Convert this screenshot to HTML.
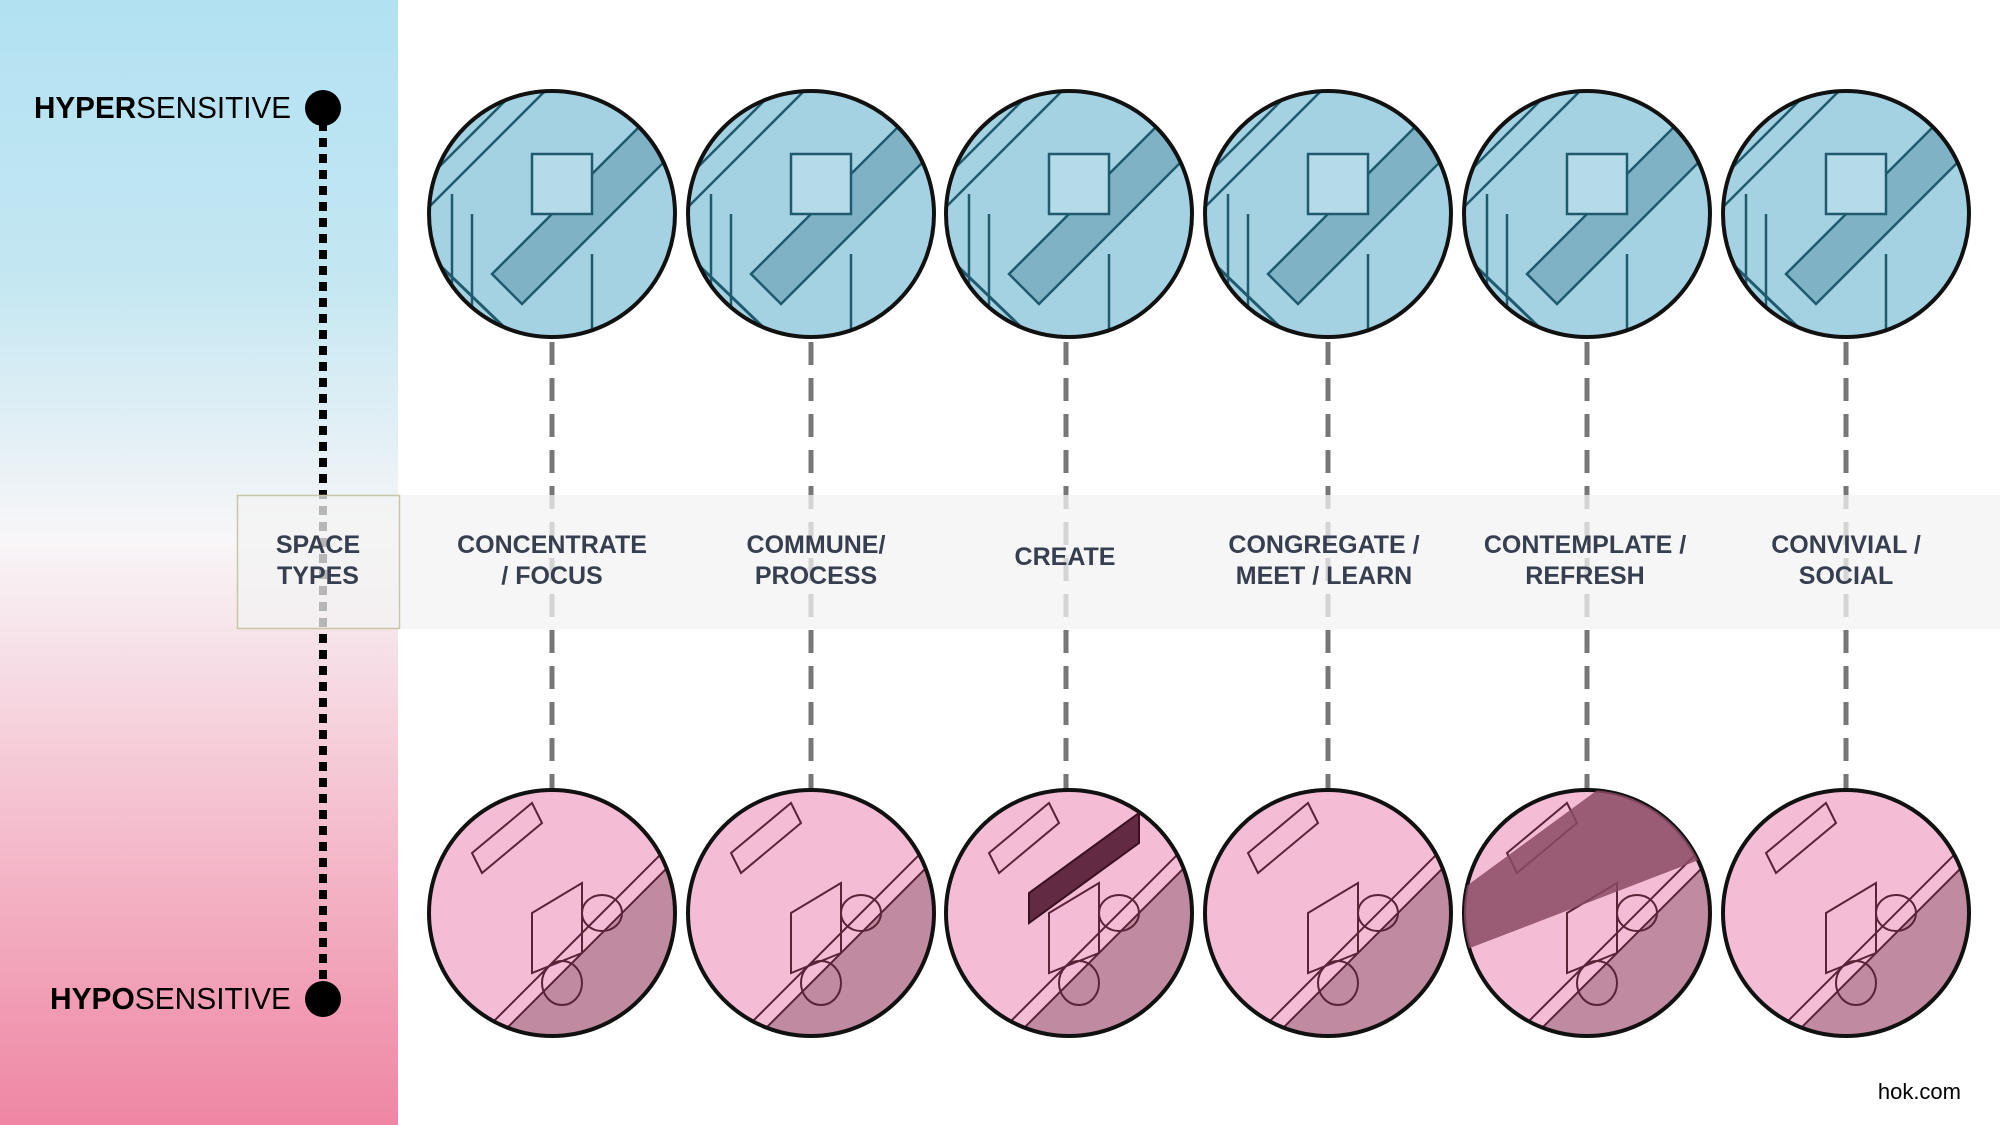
<!DOCTYPE html>
<html><head><meta charset="utf-8"><style>
html,body{margin:0;padding:0;width:2000px;height:1125px;overflow:hidden;background:#fff}
svg{display:block}
text{font-family:"Liberation Sans",sans-serif}
</style></head><body>
<svg width="2000" height="1125" viewBox="0 0 2000 1125" xmlns="http://www.w3.org/2000/svg">
<defs>
<linearGradient id="pg" x1="0" y1="0" x2="0" y2="1">
<stop offset="0" stop-color="#b2e1f2"/>
<stop offset="0.25" stop-color="#c4e7f2"/>
<stop offset="0.48" stop-color="#f8f6f8"/>
<stop offset="0.7" stop-color="#f5c5d3"/>
<stop offset="1" stop-color="#ef86a3"/>
</linearGradient>
<clipPath id="c1"><circle cx="0" cy="0" r="123"/></clipPath>
<g id="blue">
<circle r="123" fill="#a4d2e3"/>
<g clip-path="url(#c1)" stroke="#1f5a6e" stroke-width="2.5" fill="none">
<path d="M-140 -20 L-10 -150 M-140 10 L20 -150" />
<path d="M-60 60 L120 -120 L150 -90 L-30 90 Z" fill="#7fb2c4"/>
<path d="M-20 -60 L40 -60 L40 0 L-20 0 Z" fill="#b5dbe8"/>
<path d="M-100 -20 L-100 110 M-80 0 L-80 130 M40 40 L40 140"/>
<path d="M-124 40 L-20 140" stroke-width="3"/>
</g>
<circle r="123" fill="none" stroke="#111" stroke-width="4"/>
</g>
<g id="pink">
<circle r="123" fill="#f5bcd6"/>
<g clip-path="url(#c1)" stroke="#5a2338" stroke-width="2" fill="none">
<path d="M-80 150 L150 -80 L150 150 Z" fill="#c08aa0"/>
<path d="M-90 140 L140 -90"/>
<path d="M-80 -60 L-20 -110 L-10 -90 L-70 -40 Z"/>
<path d="M-20 0 L30 -30 L30 40 L-20 60 Z"/>
<ellipse cx="50" cy="0" rx="20" ry="18"/>
<ellipse cx="10" cy="70" rx="20" ry="22"/>
</g>
<circle r="123" fill="none" stroke="#111" stroke-width="4"/>
</g>
</defs>
<rect x="0" y="0" width="398" height="1125" fill="url(#pg)"/>
<line x1="323" y1="122" x2="323" y2="990" stroke="#000" stroke-width="8" stroke-dasharray="9 7"/>
<circle cx="323" cy="108" r="18" fill="#000"/>
<circle cx="323" cy="999" r="18" fill="#000"/>
<text x="34" y="118" font-size="31" fill="#000" textLength="257" lengthAdjust="spacingAndGlyphs"><tspan font-weight="bold">HYPER</tspan>SENSITIVE</text>
<text x="50" y="1009" font-size="31" fill="#000" textLength="241" lengthAdjust="spacingAndGlyphs"><tspan font-weight="bold">HYPO</tspan>SENSITIVE</text>
<g stroke="#777" stroke-width="5" stroke-dasharray="23 13">
<line x1="552" y1="342" x2="552" y2="792"/>
<line x1="811" y1="342" x2="811" y2="792"/>
<line x1="1066" y1="342" x2="1066" y2="792"/>
<line x1="1328" y1="342" x2="1328" y2="792"/>
<line x1="1587" y1="342" x2="1587" y2="792"/>
<line x1="1846" y1="342" x2="1846" y2="792"/>
</g>
<rect x="237" y="495" width="1763" height="134" fill="#f3f3f3" opacity="0.75"/>
<rect x="237.5" y="495.5" width="162" height="133" fill="none" stroke="#c9c6a4" stroke-width="1.5"/>
<use href="#blue" x="552" y="214"/><use href="#blue" x="811" y="214"/><use href="#blue" x="1069" y="214"/>
<use href="#blue" x="1328" y="214"/><use href="#blue" x="1587" y="214"/><use href="#blue" x="1846" y="214"/>
<use href="#pink" x="552" y="913"/><use href="#pink" x="811" y="913"/><use href="#pink" x="1069" y="913"/>
<use href="#pink" x="1328" y="913"/><use href="#pink" x="1587" y="913"/><use href="#pink" x="1846" y="913"/>
<g clip-path="url(#c1)" transform="translate(1069 913)"><path d="M-40 -20 L70 -100 L70 -70 L-40 10 Z" fill="#632a44" stroke="#3a1020" stroke-width="2"/></g>
<g clip-path="url(#c1)" transform="translate(1587 913)"><path d="M-130 -20 L20 -130 L130 -130 L130 -60 L-130 40 Z" fill="#8a4a64" opacity="0.85"/></g>
<g font-size="25" font-weight="bold" fill="#363e50" text-anchor="middle">
<text x="318" y="553">SPACE</text><text x="318" y="584">TYPES</text>
<text x="552" y="553">CONCENTRATE</text><text x="552" y="584">/ FOCUS</text>
<text x="816" y="553">COMMUNE/</text><text x="816" y="584">PROCESS</text>
<text x="1065" y="565">CREATE</text>
<text x="1324" y="553">CONGREGATE /</text><text x="1324" y="584">MEET / LEARN</text>
<text x="1585" y="553">CONTEMPLATE /</text><text x="1585" y="584">REFRESH</text>
<text x="1846" y="553">CONVIVIAL /</text><text x="1846" y="584">SOCIAL</text>
</g>
<text x="1961" y="1099" font-size="22" fill="#000" text-anchor="end">hok.com</text>
</svg>
</body></html>
